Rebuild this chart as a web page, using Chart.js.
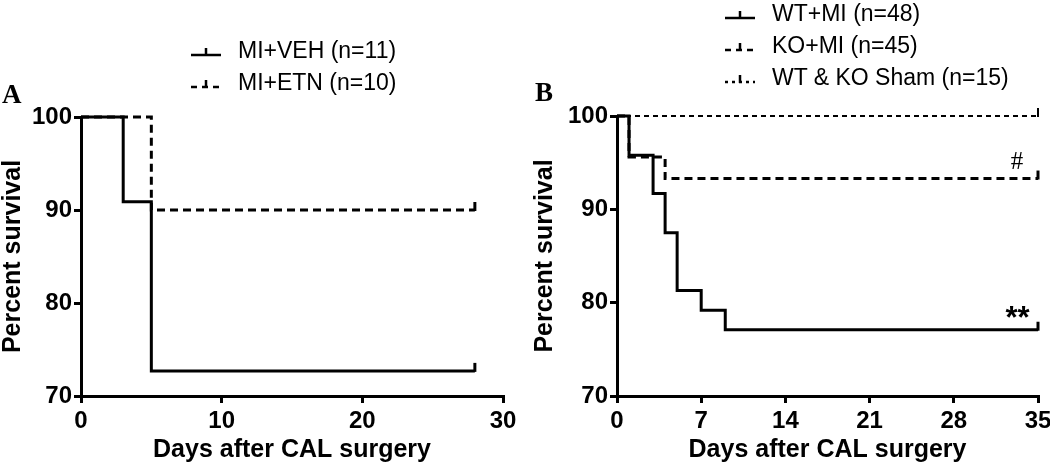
<!DOCTYPE html>
<html>
<head>
<meta charset="utf-8">
<script src="https://cdn.jsdelivr.net/npm/chart.js@4.4.0/dist/chart.umd.min.js"></script>
<style>
  body { margin: 0; background: #fff; width: 1050px; height: 467px; overflow: hidden; position: relative; font-family: "Liberation Sans", Arial, sans-serif; }
  .panel { position: absolute; top: 0; height: 467px; }
  .letter { position: absolute; font-family: "Liberation Serif", "Times New Roman", serif; font-weight: bold; font-size: 27px; color: #000; line-height: 30px; }
  .legend { position: absolute; font-size: 23px; color: #000; }
  .legend div { height: 32px; line-height: 32px; white-space: nowrap; }
  .legend svg { vertical-align: middle; margin-right: 16px; }
</style>
</head>
<body>
<div class="panel" style="left:0; width:525px"><canvas id="chartA" width="525" height="467"></canvas></div>
<div class="panel" style="left:525px; width:532px"><canvas id="chartB" width="532" height="467"></canvas></div>
<div class="letter" style="left:2px; top:79px">A</div>
<div class="letter" style="left:535px; top:77px">B</div>
<div class="legend" id="legendA" style="left:190px; top:34px"></div>
<div class="legend" id="legendB" style="left:724px; top:-3px"></div>
<script>
// Panel A
var labelsA = ['MI+VEH (n=11)', 'MI+ETN (n=10)'];
var vehDays = [0, 3, 5, 28];
var vehSurvival = [100, 90.9, 72.7, 72.7];
var etnDays = [0, 5, 28];
var etnSurvival = [100, 90, 90];
var ticksA = [0, 10, 20, 30];

// Panel B
var labelsB = ['WT+MI (n=48)', 'KO+MI (n=45)', 'WT & KO Sham (n=15)'];
var wtDays = [0, 1, 3, 4, 5, 7, 9, 35];
var wtSurvival = [100, 95.8, 91.7, 87.5, 81.3, 79.2, 77.1, 77.1];
var koDays = [0, 1, 4, 35];
var koSurvival = [100, 95.6, 93.3, 93.3];
var shamDays = [0, 35];
var shamSurvival = [100, 100];
var ticksB = [0, 7, 14, 21, 28, 35];

var yTicks = [70, 80, 90, 100];

function points(xs, ys) {
  return xs.map(function (x, i) { return { x: x, y: ys[i] }; });
}

// small vertical tick at the end of each curve (censored mark)
var censorTicks = {
  id: 'censorTicks',
  afterDatasetsDraw: function (chart) {
    var ctx = chart.ctx;
    chart.data.datasets.forEach(function (ds, i) {
      var meta = chart.getDatasetMeta(i);
      var last = meta.data[meta.data.length - 1];
      ctx.save();
      ctx.strokeStyle = '#000';
      ctx.lineWidth = ds.borderWidth;
      ctx.beginPath();
      ctx.moveTo(last.x, last.y + 1);
      ctx.lineTo(last.x, last.y - 8);
      ctx.stroke();
      ctx.restore();
    });
  }
};

// text marks placed in data coordinates
var marks = {
  id: 'marks',
  afterDatasetsDraw: function (chart, args, opts) {
    var ctx = chart.ctx;
    (opts.items || []).forEach(function (m) {
      ctx.save();
      ctx.fillStyle = '#000';
      ctx.font = m.font;
      ctx.textAlign = 'center';
      ctx.textBaseline = 'middle';
      ctx.fillText(m.text, chart.scales.x.getPixelForValue(m.x), chart.scales.y.getPixelForValue(m.y));
      ctx.restore();
    });
  }
};

function makeOptions(xMax, xTicks, yWidth, pad, items) {
  var tickFont = { family: 'Liberation Sans', size: 24, weight: 'bold' };
  var titleFont = { family: 'Liberation Sans', size: 25, weight: 'bold', lineHeight: 1.05 };
  return {
    responsive: false,
    animation: false,
    layout: { padding: pad },
    plugins: { legend: { display: false }, tooltip: { enabled: false }, marks: { items: items } },
    scales: {
      x: {
        type: 'linear', min: 0, max: xMax,
        afterBuildTicks: function (s) { s.ticks = xTicks.map(function (v) { return { value: v }; }); },
        afterFit: function (s) { s.height = 67; },
        border: { display: true, color: '#000', width: 3 },
        grid: { drawOnChartArea: false, color: '#000', lineWidth: 3, tickLength: 7 },
        ticks: { color: '#000', font: tickFont, padding: 4, maxRotation: 0 },
        title: { display: true, text: 'Days after CAL surgery', color: '#000', font: titleFont, padding: 0 }
      },
      y: {
        min: 70, max: 100,
        afterBuildTicks: function (s) { s.ticks = yTicks.map(function (v) { return { value: v }; }); },
        afterFit: function (s) { s.width = yWidth; },
        border: { display: true, color: '#000', width: 3 },
        grid: { drawOnChartArea: false, color: '#000', lineWidth: 3, tickLength: 7 },
        ticks: { color: '#000', font: tickFont, padding: 2 },
        title: { display: true, text: 'Percent survival', color: '#000', font: titleFont, padding: 0 }
      }
    }
  };
}

function line(label, data, width, dash) {
  return {
    label: label, data: data, stepped: true, borderColor: '#000', borderWidth: width,
    borderDash: dash, pointRadius: 0, fill: false, clip: false
  };
}

var dsA = [
  line(labelsA[1], points(etnDays, etnSurvival), 3, [8, 5]),
  line(labelsA[0], points(vehDays, vehSurvival), 3, [])
];
new Chart(document.getElementById('chartA'), {
  type: 'line',
  data: { datasets: dsA },
  options: makeOptions(30, ticksA, 81, { left: 0, right: 22, top: 117, bottom: 4 }, []),
  plugins: [censorTicks, marks]
});

var dsB = [
  line(labelsB[2], points(shamDays, shamSurvival), 2, [5, 4]),
  line(labelsB[1], points(koDays, koSurvival), 3, [8, 5]),
  line(labelsB[0], points(wtDays, wtSurvival), 3, [])
];
new Chart(document.getElementById('chartB'), {
  type: 'line',
  data: { datasets: dsB },
  options: makeOptions(35, ticksB, 85, { left: 7, right: 19, top: 116, bottom: 4 }, [
    { text: '#', x: 33.25, y: 95.0, font: '25px "Liberation Serif"' },
    { text: '**', x: 33.3, y: 78.2, font: 'bold 31px "Liberation Sans"' }
  ]),
  plugins: [censorTicks, marks]
});

function buildLegend(el, labels, dashes) {
  labels.forEach(function (lab, i) {
    var row = document.createElement('div');
    var dash = dashes[i] ? ' stroke-dasharray="' + dashes[i] + '"' : '';
    row.innerHTML = '<svg width="32" height="14"><line x1="1" y1="10" x2="31" y2="10" stroke="#000" stroke-width="2.5"' + dash +
      '/><line x1="16" y1="3" x2="16" y2="11" stroke="#000" stroke-width="2.5"/></svg>' + lab;
    el.appendChild(row);
  });
}
buildLegend(document.getElementById('legendA'), labelsA, ['', '6,5']);
buildLegend(document.getElementById('legendB'), labelsB, ['', '6,5', '3,4']);
</script>
</body>
</html>
